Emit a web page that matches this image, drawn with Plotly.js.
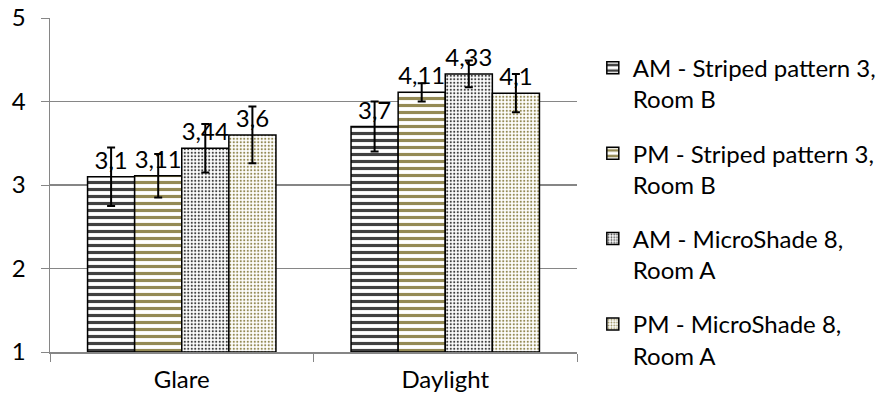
<!DOCTYPE html>
<html><head><meta charset="utf-8">
<script src="https://cdn.plot.ly/plotly-3.0.1.min.js"></script>
<style>body{margin:0;background:#fff}#c{width:880px;height:403px}</style>
</head><body><div id="c"></div>
<script>
const categories = ["Glare", "Daylight"];
const seriesNames = ["AM - Striped pattern 3,<br>Room B", "PM - Striped pattern 3,<br>Room B", "AM - MicroShade 8,<br>Room A", "PM - MicroShade 8,<br>Room A"];
const amStriped = [3.1, 3.7];
const pmStriped = [3.11, 4.11];
const amMicro = [3.44, 4.33];
const pmMicro = [3.6, 4.1];
const errAmStriped = [0.35, 0.3];
const errPmStriped = [0.26, 0.11];
const errAmMicro = [0.29, 0.16];
const errPmMicro = [0.34, 0.23];
const yTickLabels = ["1", "2", "3", "4", "5"];
const axisBase = 1;

const values = [amStriped, pmStriped, amMicro, pmMicro];
const errors = [errAmStriped, errPmStriped, errAmMicro, errPmMicro];
const patterns = [
  {shape: "-", fgcolor: "#404040", bgcolor: "#ffffff", size: 7, solidity: 0.45},
  {shape: "-", fgcolor: "#948A54", bgcolor: "#ffffff", size: 7, solidity: 0.45},
  {shape: ".", fgcolor: "#404040", bgcolor: "#ffffff", size: 3.5, solidity: 0.3},
  {shape: ".", fgcolor: "#948A54", bgcolor: "#ffffff", size: 3.5, solidity: 0.3}
];
const FONT = "Lato, 'Open Sans', sans-serif";
const fmt = v => String(v).replace(".", ",");
const traces = values.map((vals, i) => ({
  type: "bar",
  name: seriesNames[i],
  legendgroup: "g" + i,
  x: categories,
  base: axisBase,
  y: vals.map(v => v - axisBase),
  text: vals.map(fmt),
  textposition: "outside",
  cliponaxis: false,
  hoverinfo: "none",
  textfont: {family: FONT, size: 24, color: "#000"},
  marker: {color: "#ffffff", pattern: patterns[i], line: {color: "#000", width: 1.5}},
  error_y: {type: "data", array: errors[i], visible: true, color: "#000", thickness: 2, width: 4}
}));
const layout = {
  width: 880, height: 403,
  margin: {l: 50, r: 303, t: 18, b: 51, autoexpand: false},
  paper_bgcolor: "#fff", plot_bgcolor: "#fff",
  font: {family: FONT, size: 24, color: "#000"},
  barmode: "group", bargap: 0.285, bargroupgap: 0,
  showlegend: true,
  legend: {x: 1.03, y: 0.42, yanchor: "middle", xanchor: "left", valign: "top", font: {size: 24}, tracegroupgap: 20, itemwidth: 30, bgcolor: "rgba(0,0,0,0)"},
  xaxis: {type: "category", showline: true, linecolor: "#868686", linewidth: 1.5, ticks: "outside", tickson: "boundaries", ticklen: 8, tickcolor: "#868686", tickfont: {size: 24}, showgrid: false, ticklabelstandoff: 6},
  yaxis: {range: [1, 5], tickvals: [1, 2, 3, 4, 5], ticktext: yTickLabels, showline: true, linecolor: "#868686", linewidth: 1.5, ticks: "outside", ticklen: 8, tickcolor: "#868686", gridcolor: "#868686", gridwidth: 1.2, zeroline: false, tickfont: {size: 24}, ticklabelstandoff: 10}
};
Plotly.newPlot("c", traces, layout, {displayModeBar: false, staticPlot: true});
</script></body></html>
